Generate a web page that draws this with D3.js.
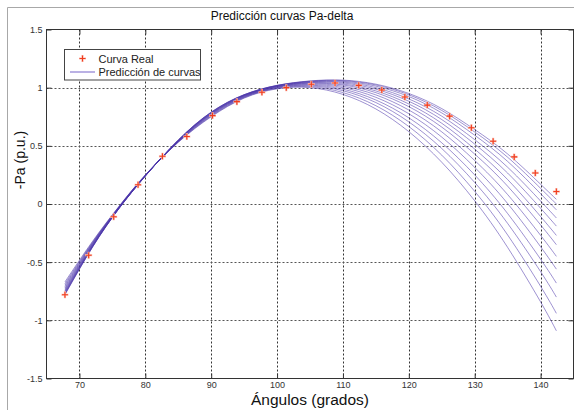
<!DOCTYPE html>
<html><head><meta charset="utf-8">
<script src="https://cdn.jsdelivr.net/npm/d3@7"></script>
<style>
html,body{margin:0;padding:0;background:#fff;}
svg{display:block;font-family:"Liberation Sans",Arial,sans-serif;}
</style></head>
<body><svg id="chart" width="574" height="410"></svg>
<script>
// ---- data ----
const xTicks = [70, 80, 90, 100, 110, 120, 130, 140];
const yTicks = [-1.5, -1, -0.5, 0, 0.5, 1, 1.5];
const yTickLabels = ["-1.5", "-1", "-0.5", "0", "0.5", "1", "1.5"];

const realX = [67.8, 71.4, 75.2, 78.9, 82.6, 86.3, 90.2, 93.9, 97.7, 101.4, 105.2, 108.8, 112.4, 115.9, 119.4, 122.8, 126.2, 129.5, 132.8, 136.0, 139.2, 142.4];
const realY = [-0.78, -0.44, -0.11, 0.165, 0.41, 0.58, 0.76, 0.88, 0.96, 1.00, 1.03, 1.04, 1.02, 0.98, 0.92, 0.85, 0.755, 0.655, 0.54, 0.405, 0.267, 0.107];

const predX = [67.8, 72, 76, 80, 85, 90, 95, 100, 105, 110, 115, 120, 125, 130, 135, 140, 142.4];
const curve1  = [-0.78, -0.37, -0.04, 0.24, 0.55, 0.79, 0.94, 1.02, 1.058, 1.065, 1.03, 0.95, 0.82, 0.64, 0.43, 0.17, 0.04];
const curve2  = [-0.776, -0.368, -0.039, 0.24, 0.549, 0.789, 0.939, 1.019, 1.056, 1.061, 1.023, 0.939, 0.804, 0.619, 0.402, 0.135, 0.0];
const curve3  = [-0.771, -0.366, -0.038, 0.241, 0.548, 0.787, 0.938, 1.018, 1.053, 1.055, 1.013, 0.924, 0.783, 0.591, 0.366, 0.089, -0.05];
const curve4  = [-0.764, -0.363, -0.037, 0.241, 0.547, 0.784, 0.936, 1.016, 1.05, 1.048, 1.0, 0.903, 0.755, 0.553, 0.316, 0.026, -0.12];
const curve5  = [-0.758, -0.36, -0.036, 0.242, 0.546, 0.782, 0.934, 1.014, 1.046, 1.04, 0.987, 0.883, 0.726, 0.515, 0.266, -0.036, -0.19];
const curve6  = [-0.75, -0.356, -0.035, 0.243, 0.545, 0.779, 0.932, 1.012, 1.042, 1.031, 0.972, 0.86, 0.694, 0.472, 0.21, -0.107, -0.27];
const curve7  = [-0.742, -0.353, -0.033, 0.243, 0.543, 0.776, 0.93, 1.01, 1.038, 1.023, 0.957, 0.837, 0.661, 0.429, 0.153, -0.179, -0.35];
const curve8  = [-0.732, -0.348, -0.031, 0.244, 0.541, 0.773, 0.927, 1.007, 1.033, 1.012, 0.938, 0.808, 0.62, 0.374, 0.081, -0.269, -0.45];
const curve9  = [-0.722, -0.343, -0.029, 0.245, 0.539, 0.769, 0.924, 1.004, 1.027, 1.0, 0.917, 0.776, 0.575, 0.315, 0.004, -0.367, -0.56];
const curve10 = [-0.71, -0.338, -0.027, 0.246, 0.537, 0.765, 0.921, 1.001, 1.021, 0.987, 0.894, 0.741, 0.526, 0.25, -0.082, -0.474, -0.68];
const curve11 = [-0.698, -0.333, -0.025, 0.247, 0.535, 0.76, 0.918, 0.998, 1.015, 0.974, 0.872, 0.706, 0.477, 0.185, -0.167, -0.581, -0.80];
const curve12 = [-0.685, -0.327, -0.023, 0.249, 0.533, 0.755, 0.914, 0.994, 1.008, 0.958, 0.845, 0.666, 0.42, 0.109, -0.266, -0.707, -0.94];
const curve13 = [-0.67, -0.32, -0.02, 0.25, 0.53, 0.75, 0.91, 0.99, 1.00, 0.942, 0.817, 0.622, 0.359, 0.028, -0.373, -0.841, -1.09];
const curves = [curve1, curve2, curve3, curve4, curve5, curve6, curve7, curve8, curve9, curve10, curve11, curve12, curve13];

const titleText = "Predicción curvas Pa-delta";
const xLabel = "Ángulos (grados)";
const yLabel = "-Pa (p.u.)";
const legendLabels = ["Curva Real", "Predicción de curvas"];

// ---- layout ----
const svg = d3.select("#chart");
const L = 46.5, R = 573.5, T = 29.5, B = 378.5;
const x = d3.scaleLinear().domain([65, 145]).range([L, R]);
const y = d3.scaleLinear().domain([-1.5, 1.5]).range([B, T]);
const lineCol = "#4a34aa";
const realCol = "#f03c1e";

// outer figure frame
svg.append("path").attr("d", "M7.5,410 V7.5 H574").attr("fill", "none").attr("stroke", "#a8a8a8").attr("stroke-width", 1);

// grid
const g = svg.append("g");
g.selectAll(".vg").data(xTicks).enter().append("line")
  .attr("x1", d => Math.round(x(d)) + 0.5).attr("x2", d => Math.round(x(d)) + 0.5)
  .attr("y1", T).attr("y2", B)
  .attr("stroke", "#333").attr("stroke-width", 1).attr("stroke-dasharray", "2,2");
g.selectAll(".hg").data(yTicks.slice(1, -1)).enter().append("line")
  .attr("x1", L).attr("x2", R)
  .attr("y1", d => Math.round(y(d)) + 0.5).attr("y2", d => Math.round(y(d)) + 0.5)
  .attr("stroke", "#555").attr("stroke-width", 1).attr("stroke-dasharray", "2,2");

// axes with ticks (inward)
const xAxisB = d3.axisBottom(x).tickValues(xTicks).tickSize(-5).tickPadding(3).tickFormat(d3.format("d"));
const xAxisT = d3.axisTop(x).tickValues(xTicks).tickSize(-5).tickFormat("");
const yAxisL = d3.axisLeft(y).tickValues(yTicks).tickSize(-5).tickPadding(4).tickFormat((d, i) => yTickLabels[i]);
const yAxisR = d3.axisRight(y).tickValues(yTicks).tickSize(-5).tickFormat("");
function styleAxis(sel) {
  sel.select(".domain").remove();
  sel.selectAll("line").attr("stroke", "#333");
  sel.selectAll("text").attr("fill", "#333").style("font-size", "9px").style("font-family", "Liberation Sans, Arial, sans-serif");
}
svg.append("g").attr("transform", `translate(0,${B})`).call(xAxisB).call(styleAxis);
svg.append("g").attr("transform", `translate(0,${T})`).call(xAxisT).call(styleAxis);
svg.append("g").attr("transform", `translate(${L},0)`).call(yAxisL).call(styleAxis);
svg.append("g").attr("transform", `translate(${R},0)`).call(yAxisR).call(styleAxis);
svg.append("rect").attr("x", L).attr("y", T).attr("width", R - L).attr("height", B - T)
  .attr("fill", "none").attr("stroke", "#333").attr("stroke-width", 1);

// prediction curves
const line = d3.line().x(d => x(d[0])).y(d => y(d[1])).curve(d3.curveNatural);
svg.append("g").selectAll("path").data(curves).enter().append("path")
  .attr("d", c => line(predX.map((xv, i) => [xv, c[i]])))
  .attr("fill", "none").attr("stroke", lineCol).attr("stroke-width", 0.9).attr("stroke-opacity", 0.6);

// real points
const pts = svg.append("g").selectAll("g").data(realX.map((xv, i) => [xv, realY[i]])).enter().append("g")
  .attr("transform", d => `translate(${x(d[0])},${y(d[1])})`);
pts.append("path").attr("d", "M-3.5,0H3.5M0,-3.5V3.5").attr("stroke", "#fbc0b4").attr("stroke-width", 2.2);
pts.append("path").attr("d", "M-3,0H3M0,-3V3").attr("stroke", realCol).attr("stroke-width", 1.1);

// legend
const lg = svg.append("g");
lg.append("rect").attr("x", 64.5).attr("y", 49.5).attr("width", 136).attr("height", 30.5)
  .attr("fill", "#fff").attr("stroke", "#444").attr("stroke-width", 1);
lg.append("path").attr("d", "M79,58.5H86M82.5,55V62").attr("stroke", "#fbc0b4").attr("stroke-width", 2.2);
lg.append("path").attr("d", "M79.5,58.5H85.5M82.5,55.5V61.5").attr("stroke", realCol).attr("stroke-width", 1.1);
lg.append("line").attr("x1", 70).attr("x2", 95).attr("y1", 72).attr("y2", 72)
  .attr("stroke", "#9d90d8").attr("stroke-width", 1.4);
lg.selectAll("text").data(legendLabels).enter().append("text")
  .attr("x", 98.5).attr("y", (d, i) => 62.5 + i * 13.5)
  .attr("fill", "#222").style("font-size", "11px").text(d => d);

// title & labels
svg.append("text").attr("x", 282).attr("y", 20).attr("text-anchor", "middle")
  .attr("fill", "#111").style("font-size", "12px").text(titleText);
svg.append("text").attr("x", 310).attr("y", 405).attr("text-anchor", "middle")
  .attr("fill", "#111").style("font-size", "15.5px").text(xLabel);
svg.append("text").attr("transform", "translate(25,160) rotate(-90)").attr("text-anchor", "middle")
  .attr("fill", "#111").style("font-size", "14px").text(yLabel);
</script></body></html>
